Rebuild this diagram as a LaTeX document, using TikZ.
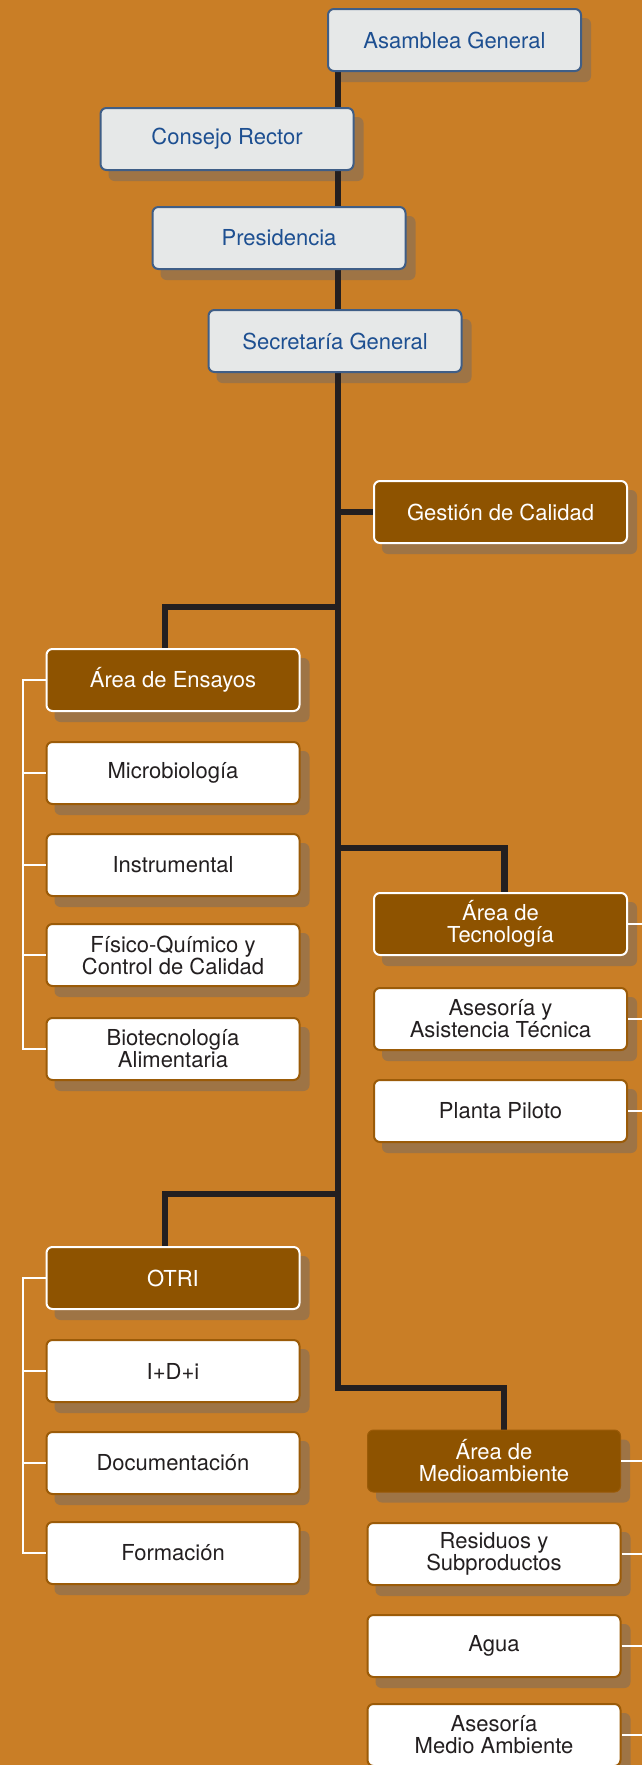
\documentclass[tikz,border=0pt]{standalone}
\usepackage{fontspec}
\setmainfont{TeX Gyre Heros}
\usepackage{xcolor}
\usepackage{tikz}

\definecolor{fondo}{HTML}{C97E26}
\definecolor{marron}{HTML}{8E5300}
\definecolor{sombra}{HTML}{9E7445}
\definecolor{gris}{HTML}{E6E8E8}
\definecolor{azul}{HTML}{1D4F91}
\definecolor{bordeazul}{HTML}{3F5E87}
\definecolor{linea}{HTML}{231F20}
\definecolor{bordemarron}{HTML}{9B5B08}

\pgfdeclarelayer{sombras}
\pgfdeclarelayer{lineas}
\pgfsetlayers{sombras,lineas,main}

\begin{document}
\begin{tikzpicture}[x=1pt,y=-1pt,
  caja/.style={rounded corners=6pt, line width=2pt, minimum width=253pt, minimum height=62pt,
    inner sep=0pt, align=center, font=\fontsize{22}{22}\selectfont},
  cajagris/.style={caja, draw=bordeazul, fill=gris, text=azul},
  cajaarea/.style={caja, draw=white, fill=marron, text=white},
  cajablanca/.style={caja, draw=bordemarron, fill=white, text=linea},
  tronco/.style={draw=linea, line width=6.5pt},
  rama/.style={draw=white, line width=2pt}]
\useasboundingbox (0,0) rectangle (642,1765);

% organos de gobierno
\node[cajagris] (asamblea) at (454.5,40) {Asamblea General};
\node[cajagris] (consejo) at (227,139) {Consejo Rector};
\node[cajagris] (presidencia) at (279,238) {Presidencia};
\node[cajagris] (secretaria) at (335,341) {Secretaría General};
\node[cajaarea] (calidad) at (500.5,512) {Gestión de Calidad};

% areas
\node[cajaarea] (ensayos) at (173,680) {Área de Ensayos};
\node[cajablanca] (micro) at (173,773) {Microbiología};
\node[cajablanca] (instrumental) at (173,865) {Instrumental};
\node[cajablanca] (fisico) at (173,955) {Físico-Químico y\\Control de Calidad};
\node[cajablanca] (biotec) at (173,1049) {Biotecnología\\Alimentaria};

\node[cajaarea] (tecnologia) at (500.5,924) {Área de\\Tecnología};
\node[cajablanca] (asesoria) at (500.5,1019) {Asesoría y\\Asistencia Técnica};
\node[cajablanca] (piloto) at (500.5,1111) {Planta Piloto};

\node[cajaarea] (otri) at (173,1278) {OTRI};
\node[cajablanca] (idi) at (173,1371) {I+D+i};
\node[cajablanca] (documentacion) at (173,1463) {Documentación};
\node[cajablanca] (formacion) at (173,1553) {Formación};

\node[caja, draw=bordemarron, line width=1pt, fill=marron, text=white] (medio) at (494,1461) {Área de\\Medioambiente};
\node[cajablanca] (residuos) at (494,1554) {Residuos y\\Subproductos};
\node[cajablanca] (agua) at (494,1646) {Agua};
\node[cajablanca] (asesoriama) at (494,1735) {Asesoría\\Medio Ambiente};

\begin{pgfonlayer}{sombras}
\fill[fondo] (0,0) rectangle (642,1765);
\foreach \n in {asamblea,consejo,presidencia,secretaria,calidad,ensayos,micro,instrumental,fisico,biotec,
    tecnologia,asesoria,piloto,otri,idi,documentacion,formacion,medio,residuos,agua,asesoriama}
  \fill[sombra, rounded corners=6pt] ([shift={(9,10)}]\n.north west) rectangle ([shift={(9,10)}]\n.south east);
\end{pgfonlayer}

\coordinate (giro) at (338,1388);
\coordinate (izq) at (22.5,0);
\coordinate (der) at (652,0);

\begin{pgfonlayer}{lineas}
\draw[tronco] (asamblea.south -| giro) -- (giro) -| ([xshift=10]medio.north);
\draw[tronco] (calidad.west) -- (calidad.west -| giro);
\draw[tronco] (338,607) -| ([xshift=-8]ensayos.north);
\draw[tronco] (338,848) -| ([xshift=4]tecnologia.north);
\draw[tronco] (338,1194) -| ([xshift=-8]otri.north);
\end{pgfonlayer}

\begin{scope}
\clip (0,0) rectangle (642,1765);
\draw[rama] (ensayos.west) -| (izq |- biotec.west) -- (biotec.west);
\foreach \n in {micro,instrumental,fisico}
  \draw[rama] (\n.west) -- (\n.west -| izq);
\draw[rama] (otri.west) -| (izq |- formacion.west) -- (formacion.west);
\foreach \n in {idi,documentacion}
  \draw[rama] (\n.west) -- (\n.west -| izq);
\draw[rama] (tecnologia.east) -| (der |- piloto.east) -- (piloto.east);
\draw[rama] (asesoria.east) -- (asesoria.east -| der);
\draw[rama] (medio.east) -| (der |- asesoriama.east) -- (asesoriama.east);
\foreach \n in {residuos,agua}
  \draw[rama] (\n.east) -- (\n.east -| der);
\end{scope}
\end{tikzpicture}
\end{document}
